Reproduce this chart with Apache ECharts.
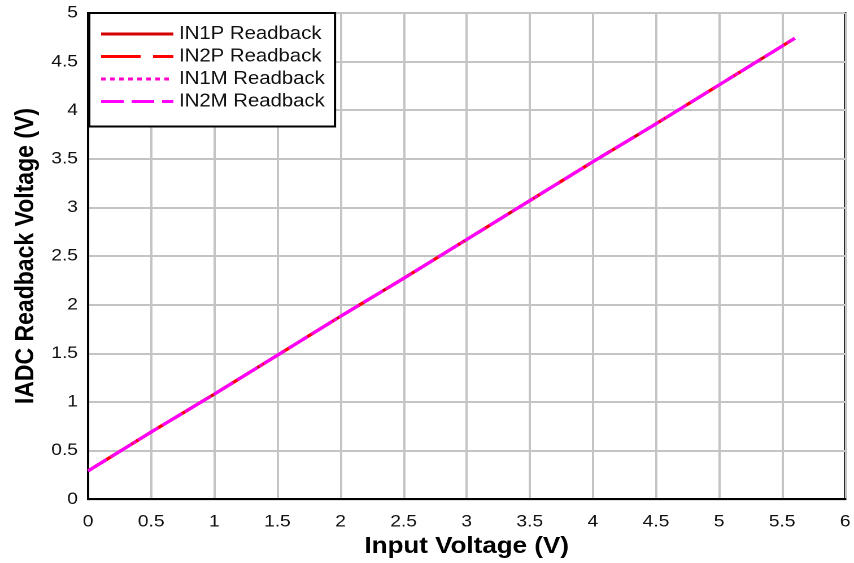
<!DOCTYPE html>
<html>
<head>
<meta charset="utf-8">
<script src="https://cdn.jsdelivr.net/npm/echarts@6/dist/echarts.min.js"></script>
<style>
  html, body { margin: 0; padding: 0; background: #fff; overflow: hidden; }
  /* the reference is stretched sideways, so draw narrower and widen */
  #chart { width: 756px; height: 563px; transform: scaleX(1.1296); transform-origin: 0 0; }
</style>
</head>
<body>
<div id="chart"></div>
<script>
// input voltage (V)
const inputV = [0, 0.5, 1, 1.5, 2, 2.5, 3, 3.5, 4, 4.5, 5, 5.5, 5.6]
// readback voltages (all four overlap)
const in1p = [0.29, 0.69, 1.08, 1.48, 1.88, 2.27, 2.67, 3.07, 3.47, 3.86, 4.26, 4.66, 4.74]
const in2p = [0.29, 0.69, 1.08, 1.48, 1.88, 2.27, 2.67, 3.07, 3.47, 3.86, 4.26, 4.66, 4.74]
const in1m = [0.29, 0.69, 1.08, 1.48, 1.88, 2.27, 2.67, 3.07, 3.47, 3.86, 4.26, 4.66, 4.74]
const in2m = [0.29, 0.69, 1.08, 1.48, 1.88, 2.27, 2.67, 3.07, 3.47, 3.86, 4.26, 4.66, 4.74]

const seriesNames = ['IN1P Readback', 'IN2P Readback', 'IN1M Readback', 'IN2M Readback']
const seriesColors = ['#d40000', '#ff0000', '#ff00cc', '#ff00ff']
const seriesDash = ['solid', [35, 11], [4, 4], [20, 7]]

const pairs = (ys) => inputV.map((x, i) => [x, ys[i]])

const chart = echarts.init(document.getElementById('chart'), null, { devicePixelRatio: 2 })
const font = '"Liberation Sans", Arial, Helvetica, sans-serif'

const option = {
  animation: false,
  grid: {
    left: 78, top: 13, right: 5, bottom: 57,
    show: true, borderColor: '#000', borderWidth: 2
  },
  legend: {
    data: seriesNames,
    orient: 'vertical',
    left: 79, top: 13,
    padding: [12, 9, 16, 9],
    itemWidth: 64,
    itemHeight: 14,
    itemGap: 4.5,
    backgroundColor: '#fff',
    borderColor: '#000',
    borderWidth: 2,
    itemStyle: { opacity: 0 },
    lineStyle: { width: 3 },
    textStyle: { fontFamily: font, fontSize: 18, color: '#111' }
  },
  xAxis: {
    type: 'value',
    min: 0, max: 6, interval: 0.5,
    name: 'Input Voltage (V)',
    nameLocation: 'middle',
    nameGap: 32,
    nameTextStyle: { fontFamily: font, fontSize: 23, fontWeight: 'bold', color: '#000' },
    axisLine: { lineStyle: { color: '#000', width: 2 } },
    axisTick: { show: false },
    axisLabel: { fontFamily: font, fontSize: 17, color: '#111', margin: 14 },
    splitLine: { lineStyle: { color: '#c4c4c4', width: 2 } }
  },
  yAxis: {
    type: 'value',
    min: 0, max: 5, interval: 0.5,
    name: 'IADC Readback Voltage (V)',
    nameLocation: 'middle',
    nameGap: 41,
    nameTextStyle: { fontFamily: font, fontSize: 23, fontWeight: 'bold', color: '#000' },
    axisLine: { show: true, lineStyle: { color: '#000', width: 2 } },
    axisTick: { show: false },
    axisLabel: { fontFamily: font, fontSize: 17, color: '#111', margin: 9 },
    splitLine: { lineStyle: { color: '#c4c4c4', width: 2 } }
  },
  series: [in1p, in2p, in1m, in2m].map((ys, i) => ({
    name: seriesNames[i],
    type: 'line',
    data: pairs(ys),
    symbol: 'none',
    color: seriesColors[i],
    lineStyle: { color: seriesColors[i], width: 3, type: seriesDash[i] }
  }))
}

chart.setOption(option)
</script>
</body>
</html>
